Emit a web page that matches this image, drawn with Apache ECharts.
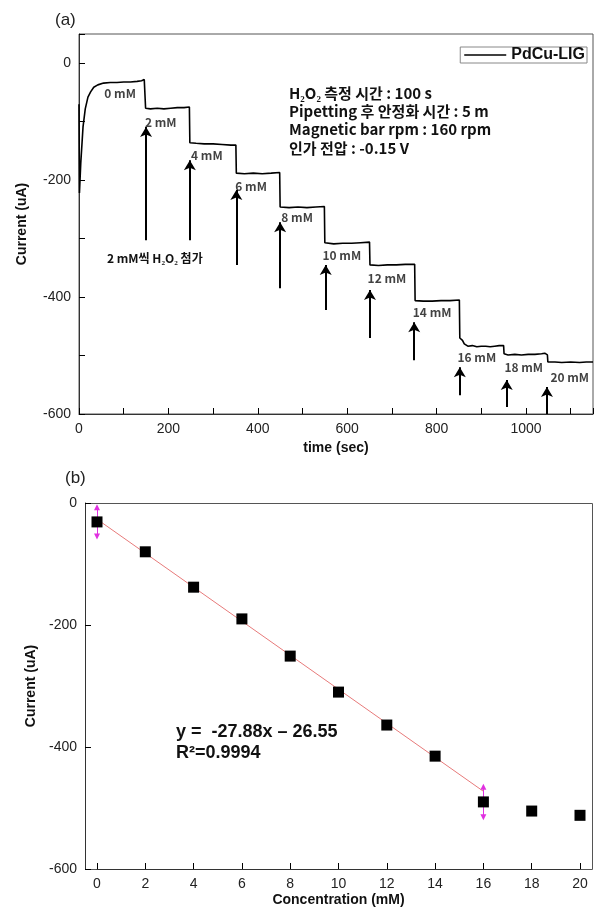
<!DOCTYPE html>
<html><head><meta charset="utf-8">
<script src="https://cdn.jsdelivr.net/npm/echarts@6/dist/echarts.min.js"></script>
<style>html,body{margin:0;padding:0;background:#fff}#c{width:597px;height:913px}</style>
</head><body><div id="c"></div>
<script>
// ---- (a) amperometric trace ----
const timeSec = [0,1,4,9,14,20,26,33,42,55,70,85,100,115,130,140,146,148,
  149,160,175,190,205,220,235,247,
  248,262,280,300,320,340,351,
  352,370,390,410,430,449,
  450,470,490,510,530,549,
  550,570,590,610,630,650,
  651,670,690,710,730,751,
  752,770,790,810,830,851,
  852,858,862,870,880,890,900,910,920,930,940,950,
  951,960,975,990,1005,1020,1035,1042,1048,
  1049,1065,1080,1100,1120,1135,1150];
const currentA = [-70,-222,-170,-109,-78,-58,-49,-41,-37,-34,-33,-33,-32,-32,-31,-30,-28,-28,
  -77,-78,-77,-78,-77,-76,-76,-75,
  -136,-137,-138,-138,-139,-140,-140,
  -188,-189,-188,-189,-188,-187,
  -246,-247,-246,-247,-246,-245,
  -307,-309,-308,-308,-307,-306,
  -345,-346,-345,-345,-344,-344,
  -406,-407,-407,-406,-406,-405,
  -470,-474,-480,-484,-483,-485,-484,-484,-485,-484,-483,-483,
  -497,-499,-498,-499,-498,-498,-497,-496,-499,
  -511,-511,-512,-511,-512,-511,-511];
const concLabels = ['0 mM','2 mM','4 mM','6 mM','8 mM','10 mM','12 mM','14 mM','16 mM','18 mM','20 mM'];
const labelT = [92,183,286,385,488,588,689,790,890,995,1098];
const labelY = [-51,-101,-157,-210,-263,-328,-368,-427,-503,-521,-538];
const arrowT = [150,248,352,450,552,651,750,852,957,1047];
const arrowTop = [-109,-166,-217,-272,-345,-388,-443,-520,-542,-554];
const arrowBottom = [-303,-303,-345,-385,-422,-470,-508,-568,-588,-600];
const topXStep = 100, topXLabelStep = 200;
const topYStep = 100, topYLabelStep = 200;
const infoLines = ['H\u2082O\u2082 측정 시간 : 100 s','Pipetting 후 안정화 시간 : 5 m','Magnetic bar rpm : 160 rpm','인가 전압 : -0.15 V'];

// ---- (b) calibration ----
const concX = [0,2,4,6,8,10,12,14,16,18,20];
const concY = [-31,-80,-138,-190,-251,-310,-364,-415,-490,-505,-512];
const fitX = [0,16];
const fitY = [-26.55,-472.63];
const errX = [0,16];
const errY = [-31,-490];
const errHalf = [24,25];
const bXStep = 2, bYStep = 200;

const chart = echarts.init(document.getElementById('c'));
const AX = '#333';
function axisBase(name, gap, step, labelStep){
  return {
    type:'value', name:name, nameLocation:'middle', nameGap:gap, interval:step,
    nameTextStyle:{fontWeight:'bold', fontSize:14, color:'#111', fontFamily:'Liberation Sans'},
    axisLine:{show:true, onZero:false, lineStyle:{color:AX, width:1}},
    axisTick:{show:true, inside:true, length:6, lineStyle:{color:'#000', width:1}},
    axisLabel:{color:'#222', fontSize:14, fontFamily:'Liberation Sans', margin:8,
      formatter:function(v){ return (Math.abs(v % labelStep) < 1e-9) ? String(v) : ''; }},
    splitLine:{show:false}
  };
}
const tx = axisBase('time (sec)', 27, topXStep, topXLabelStep); tx.min=0; tx.max=1150; tx.gridIndex=0;
const ty = axisBase('Current (uA)', 50, topYStep, topYLabelStep); ty.min=-600; ty.max=50; ty.gridIndex=0;
const bx = axisBase('Concentration (mM)', 24, bXStep, bXStep); bx.min=0; bx.max=20; bx.gridIndex=1;
const by = axisBase('Current (uA)', 41, bYStep, bYStep); by.min=-600; by.max=0; by.gridIndex=1; by.offset=12;

const arrowLines = arrowT.map((t,i)=>[{coord:[t,arrowBottom[i]]},{coord:[t,arrowTop[i]]}]);
const errLines = [];
errX.forEach((x,i)=>{
  errLines.push([{coord:[x,errY[i]]},{coord:[x,errY[i]+errHalf[i]]}]);
  errLines.push([{coord:[x,errY[i]]},{coord:[x,errY[i]-errHalf[i]]}]);
});
const KR = 'Noto Sans CJK KR';
const graphics = [
  {type:'rect', shape:{x:85.5, y:503.5, width:507, height:366}, style:{fill:'none', stroke:'#555', lineWidth:1}, z:-1, silent:true},
  {type:'text', x:55, y:20, style:{text:'(a)', fontSize:17, fontFamily:'Liberation Sans', fill:'#222', verticalAlign:'middle'}},
  {type:'text', x:65, y:478, style:{text:'(b)', fontSize:17, fontFamily:'Liberation Sans', fill:'#222', verticalAlign:'middle'}},
  {type:'text', x:107, y:258, style:{text:'2 mM씩 H\u2082O\u2082 첨가', fontSize:12, fontWeight:'bold', fontFamily:KR, fill:'#111', verticalAlign:'middle'}},
  {type:'text', x:176, y:732, style:{text:'y =  -27.88x \u2013 26.55', fontSize:18, fontWeight:'bold', fontFamily:'Liberation Sans', fill:'#111', verticalAlign:'middle'}},
  {type:'text', x:176, y:753, style:{text:'R\u00b2=0.9994', fontSize:18, fontWeight:'bold', fontFamily:'Liberation Sans', fill:'#111', verticalAlign:'middle'}}
];
infoLines.forEach((s,i)=>graphics.push({type:'text', x:289, y:93+i*18.3, style:{text:s, fontSize:15, fontWeight:'bold', fontFamily:KR, fill:'#111', verticalAlign:'middle'}}));

chart.setOption({
  animation:false,
  grid:[
    {left:79, top:34, right:4, bottom:499, show:true, borderColor:'#555', borderWidth:1, backgroundColor:'transparent'},
    {left:97, top:503, right:17, bottom:44}
  ],
  legend:{
    data:[{name:'PdCu-LIG', icon:'rect'}], right:10, top:47, itemWidth:42, itemHeight:1.5,
    borderColor:'#888', borderWidth:1, padding:[0,2,0,4], itemGap:4,
    textStyle:{fontSize:16, fontWeight:'bold', color:'#111', fontFamily:'Liberation Sans'}
  },
  xAxis:[tx, bx],
  yAxis:[ty, by],
  graphic:graphics,
  series:[
    {name:'PdCu-LIG', type:'line', xAxisIndex:0, yAxisIndex:0, symbol:'none',
     lineStyle:{color:'#000', width:1.6}, itemStyle:{color:'#000'},
     data: timeSec.map((t,i)=>[t,currentA[i]])},
    {name:'labels', type:'scatter', xAxisIndex:0, yAxisIndex:0, symbolSize:0, silent:true,
     data: labelT.map((t,i)=>({value:[t,labelY[i]], name:concLabels[i]})),
     label:{show:true, position:'inside', formatter:'{b}', fontSize:12, fontWeight:'bold', color:'#111', fontFamily:KR},
     markLine:{silent:true, symbol:['none','arrow'], symbolSize:[9,10], label:{show:false},
       lineStyle:{color:'#000', width:2, type:'solid'}, data:arrowLines}},
    {name:'fit', type:'line', xAxisIndex:1, yAxisIndex:1, symbol:'none',
     lineStyle:{color:'#e77a7a', width:1}, data: fitX.map((x,i)=>[x,fitY[i]])},
    {name:'calib', type:'scatter', xAxisIndex:1, yAxisIndex:1, symbol:'rect', symbolSize:11,
     itemStyle:{color:'#000', opacity:1}, data: concX.map((x,i)=>[x,concY[i]]), z:5,
     markLine:{silent:true, symbol:['none','triangle'], symbolSize:6, label:{show:false},
       lineStyle:{color:'#e030e0', width:1, type:'solid'}, data:errLines}}
  ]
});
</script></body></html>
